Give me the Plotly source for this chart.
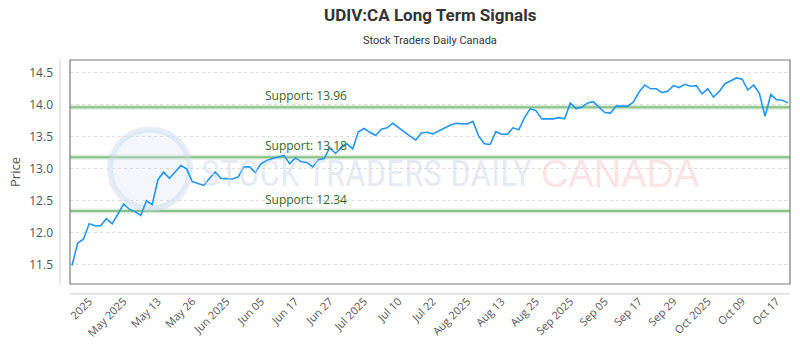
import plotly.graph_objects as go

prices = [
    11.49, 11.84, 11.90, 12.14, 12.11, 12.11, 12.22, 12.14, 12.29, 12.45,
    12.37, 12.33, 12.27, 12.50, 12.44, 12.83, 12.95, 12.85, 12.95, 13.05,
    13.00, 12.80, 12.77, 12.74, 12.85, 12.95, 12.85, 12.84, 12.84, 12.87,
    13.03, 13.03,
    12.94, 13.08, 13.13, 13.16, 13.18, 13.21, 13.08, 13.17, 13.11, 13.10,
    13.03, 13.14, 13.16, 13.33, 13.24, 13.33, 13.39, 13.31, 13.58, 13.63,
    13.57, 13.52, 13.62, 13.64, 13.71, 13.64, 13.58, 13.51, 13.45, 13.56,
    13.57,
    13.545, 13.59, 13.64, 13.68, 13.71, 13.71, 13.70, 13.74, 13.51, 13.39,
    13.38, 13.58, 13.54, 13.54, 13.64, 13.61, 13.80, 13.94, 13.91, 13.78,
    13.78, 13.78, 13.80, 13.78, 14.03, 13.94, 13.96, 14.03, 14.05, 13.96,
    13.88, 13.87,
    13.98, 13.98, 13.98, 14.04, 14.20, 14.31, 14.25, 14.25, 14.19, 14.21,
    14.30, 14.27, 14.32, 14.29, 14.30, 14.17, 14.25, 14.12, 14.21, 14.33,
    14.37, 14.42, 14.40, 14.23, 14.31, 14.18, 13.82, 14.16, 14.08, 14.07,
    14.03,
]
x_idx = list(range(len(prices)))

tick_pos = [3, 9, 15, 21, 27, 33, 39, 45, 51, 57, 63, 69, 75, 81, 87, 93, 99, 105, 111, 117, 123]
tick_labels = ["2025", "May 2025", "May 13", "May 26", "Jun 2025", "Jun 05", "Jun 17",
               "Jun 27", "Jul 2025", "Jul 10", "Jul 22", "Aug 2025", "Aug 13", "Aug 25",
               "Sep 2025", "Sep 05", "Sep 17", "Sep 29", "Oct 2025", "Oct 09", "Oct 17"]

support_levels = [13.96, 13.18, 12.34]

title_text = "UDIV:CA Long Term Signals"
subtitle_text = "Stock Traders Daily Canada"

fig = go.Figure()
fig.add_trace(go.Scatter(
    x=x_idx, y=prices, mode="lines",
    line=dict(color="#2196F3", width=1.6),
    hoverinfo="skip", showlegend=False,
))

PW, PH = 720, 226
shapes = []
annotations = []
for lvl in support_levels:
    shapes.append(dict(type="line", xref="paper", yref="y", x0=0, x1=1, y0=lvl, y1=lvl,
                       line=dict(color="rgba(120,185,120,0.25)", width=5), layer="below"))
    shapes.append(dict(type="line", xref="paper", yref="y", x0=0, x1=1, y0=lvl, y1=lvl,
                       line=dict(color="rgba(120,185,120,0.85)", width=2), layer="below"))
    annotations.append(dict(x=(306 - 70) / PW, xref="paper", xanchor="center", y=lvl, yref="y",
                            yanchor="bottom", yshift=1, text=f"Support: {lvl:.2f}", showarrow=False,
                            font=dict(family="Open Sans", size=12, color="#2e6b2e")))

# plot border
shapes.append(dict(type="rect", xref="paper", yref="paper", x0=0, x1=1, y0=0, y1=1,
                   line=dict(color="#7a7a7a", width=1.2), layer="above"))
# offset axis lines
shapes.append(dict(type="line", xref="paper", yref="paper", x0=-10 / PW, x1=-10 / PW, y0=0, y1=1,
                   line=dict(color="#cccccc", width=1)))
shapes.append(dict(type="line", xref="paper", yref="paper", x0=0, x1=1, y0=-10 / PH, y1=-10 / PH,
                   line=dict(color="#cccccc", width=1)))
# watermark logo circle
shapes.append(dict(type="circle", xref="paper", yref="paper",
                   x0=(110 - 70) / PW, x1=(190 - 70) / PW, y0=(286 - 210) / PH, y1=(286 - 130) / PH,
                   line=dict(color="rgba(200,215,235,0.45)", width=6),
                   fillcolor="rgba(215,228,242,0.3)", layer="below"))

annotations += [
    dict(text="<b>" + title_text + "</b>", x=0.5, xref="paper", xanchor="center",
         y=1, yref="paper", yanchor="middle", yshift=60 - 15, showarrow=False,
         font=dict(family="Roboto", size=17, color="#333333")),
    dict(text=subtitle_text, x=0.5, xref="paper", xanchor="center",
         y=1, yref="paper", yanchor="middle", yshift=60 - 40, showarrow=False,
         font=dict(family="Roboto", size=11, color="#333333")),
    dict(text="STOCK TRADERS DAILY", x=(366 - 70) / PW, xref="paper", xanchor="center",
         y=(286 - 175) / PH, yref="paper", yanchor="middle", showarrow=False,
         font=dict(family="Liberation Sans Narrow, Roboto Condensed, DejaVu Sans Condensed", size=36,
                   color="rgba(205,215,232,0.5)")),
    dict(text="CANADA", x=(620 - 70) / PW, xref="paper", xanchor="center",
         y=(286 - 175) / PH, yref="paper", yanchor="middle", showarrow=False,
         font=dict(family="Liberation Sans, Arial", size=38, color="rgba(250,200,200,0.5)")),
]

fig.update_layout(
    width=800, height=350,
    margin=dict(l=70, r=10, t=60, b=64),
    paper_bgcolor="white", plot_bgcolor="white",
    xaxis=dict(
        range=[-0.35, 125.35], tickmode="array", tickvals=tick_pos, ticktext=tick_labels,
        tickangle=-45, showgrid=False, zeroline=False, showline=False,
        tickfont=dict(family="Open Sans", size=11, color="#555555"),
        ticks="", ticklabelstandoff=8,
    ),
    yaxis=dict(
        range=[11.2, 14.7], tickvals=[11.5, 12.0, 12.5, 13.0, 13.5, 14.0, 14.5],
        ticktext=["11.5", "12.0", "12.5", "13.0", "13.5", "14.0", "14.5"],
        showgrid=True, gridcolor="#dddddd", griddash="dot", gridwidth=1,
        zeroline=False, showline=False, ticks="", ticklabelstandoff=16,
        tickfont=dict(family="Open Sans", size=12, color="#555555"),
        title=dict(text="Price", font=dict(family="Open Sans", size=13, color="#555555"), standoff=5),
    ),
    shapes=shapes,
    annotations=annotations,
)

fig.write_html("out.html")
